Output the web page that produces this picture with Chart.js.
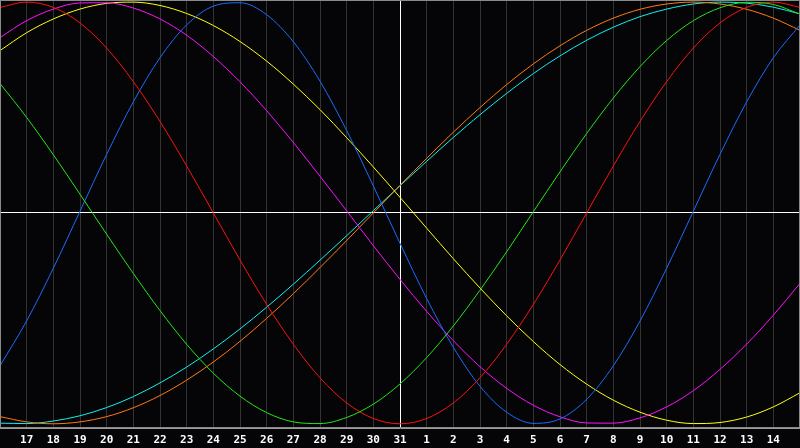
<!DOCTYPE html>
<html lang="en">
<head>
    <meta charset="UTF-8">
    <title>Biorhythm</title>
    <script src="https://cdn.jsdelivr.net/npm/chart.js"></script>
    <style>
        body {
            margin: 0;
            background-color: #050507;
        }
        #chart {
            display: block;
            background-color: #050507;
        }
    </style>
</head>
<body>
    <canvas id="chart" width="800" height="448"></canvas>

    <script>
        // days along the bottom (first and last columns are unlabeled)
        const dayLabels = ['', '17', '18', '19', '20', '21', '22', '23', '24', '25', '26', '27', '28', '29', '30', '31',
            '1', '2', '3', '4', '5', '6', '7', '8', '9', '10', '11', '12', '13', '14', ''];

        const redValues = [0.975, 1.0, 0.975, 0.901, 0.782, 0.623, 0.434, 0.223, 0.0, -0.223, -0.434, -0.623, -0.782, -0.901, -0.975, -1.0,
            -0.975, -0.901, -0.782, -0.623, -0.434, -0.223, 0.0, 0.223, 0.434, 0.623, 0.782, 0.901, 0.975, 1.0, 0.975];
        const greenValues = [0.614, 0.453, 0.276, 0.089, -0.101, -0.287, -0.463, -0.623, -0.760, -0.869, -0.947, -0.991, -0.999, -0.970, -0.907, -0.811,
            -0.686, -0.536, -0.366, -0.184, 0.006, 0.195, 0.377, 0.545, 0.694, 0.818, 0.912, 0.973, 0.999, 0.989, 0.943];
        const blueValues = [-0.725, -0.512, -0.262, 0.008, 0.278, 0.527, 0.736, 0.892, 0.981, 0.997, 0.940, 0.812, 0.625, 0.391, 0.128, -0.144,
            -0.406, -0.637, -0.822, -0.945, -0.998, -0.977, -0.884, -0.725, -0.513, -0.262, 0.008, 0.278, 0.527, 0.736, 0.892];
        const magentaValues = [0.832, 0.912, 0.967, 0.996, 0.997, 0.972, 0.920, 0.843, 0.742, 0.622, 0.485, 0.334, 0.174, 0.010, -0.155, -0.315,
            -0.467, -0.606, -0.729, -0.832, -0.912, -0.967, -0.996, -0.997, -0.972, -0.920, -0.843, -0.742, -0.622, -0.485, -0.334];
        const yellowValues = [0.770, 0.855, 0.920, 0.967, 0.994, 1.0, 0.984, 0.946, 0.889, 0.813, 0.720, 0.611, 0.490, 0.357, 0.218, 0.074,
            -0.072, -0.217, -0.356, -0.488, -0.610, -0.719, -0.812, -0.888, -0.945, -0.983, -0.999, -0.994, -0.968, -0.920, -0.853];
        const cyanValues = [-0.997, -0.999, -0.987, -0.962, -0.923, -0.871, -0.806, -0.731, -0.645, -0.550, -0.447, -0.338, -0.224, -0.108, 0.011, 0.129,
            0.245, 0.358, 0.466, 0.567, 0.661, 0.745, 0.819, 0.881, 0.931, 0.967, 0.991, 1.0, 0.995, 0.976, 0.944];
        const orangeValues = [-0.966, -0.991, -1.0, -0.991, -0.966, -0.924, -0.866, -0.793, -0.707, -0.609, -0.500, -0.383, -0.259, -0.131, 0.0, 0.131,
            0.259, 0.383, 0.500, 0.609, 0.707, 0.793, 0.866, 0.924, 0.966, 0.991, 1.0, 0.991, 0.966, 0.924, 0.866];

        const todayIndex = 15;

        function line(values, color) {
            return {
                data: values,
                borderColor: color,
                borderWidth: 1,
                pointRadius: 0,
                fill: false,
                cubicInterpolationMode: 'monotone'
            };
        }

        // gray frame around the plot area
        const frame = {
            id: 'frame',
            afterDraw(chart) {
                const a = chart.chartArea;
                const c = chart.ctx;
                c.save();
                c.strokeStyle = '#8a8a8a';
                c.lineWidth = 1;
                c.strokeRect(a.left + 0.5, a.top + 0.5, a.right - a.left - 1, a.bottom - a.top - 1);
                c.restore();
            }
        };

        new Chart(document.getElementById('chart'), {
            type: 'line',
            data: {
                labels: dayLabels,
                datasets: [
                    line(greenValues, '#22e61a'),
                    line(redValues, '#ff1010'),
                    line(blueValues, '#1a6cff'),
                    line(magentaValues, '#ff10ff'),
                    line(yellowValues, '#ffff10'),
                    line(orangeValues, '#ff7a10'),
                    line(cyanValues, '#10f0f0')
                ]
            },
            options: {
                responsive: false,
                animation: false,
                layout: { padding: 0 },
                plugins: {
                    legend: { display: false },
                    tooltip: { enabled: false }
                },
                scales: {
                    x: {
                        offset: false,
                        grid: {
                            color: ctx => ctx.index === todayIndex ? '#ffffff' : '#333333',
                            drawTicks: false
                        },
                        border: { display: true, color: '#9a9a9a' },
                        ticks: {
                            autoSkip: false,
                            maxRotation: 0,
                            padding: 6,
                            color: '#ffffff',
                            font: { family: 'DejaVu Sans Mono', size: 11, weight: 'bold' }
                        },
                        afterFit(scale) {
                            scale.height = 20;
                            scale.paddingLeft = 0;
                            scale.paddingRight = 0;
                        }
                    },
                    y: {
                        min: -1.02,
                        max: 1.01,
                        grid: {
                            color: ctx => ctx.tick && ctx.tick.value === 0 ? '#ffffff' : 'transparent',
                            drawTicks: false
                        },
                        border: { display: false },
                        ticks: { display: false, stepSize: 0.5 },
                        afterFit(scale) { scale.width = 0; }
                    }
                }
            },
            plugins: [frame]
        });
    </script>
</body>
</html>
